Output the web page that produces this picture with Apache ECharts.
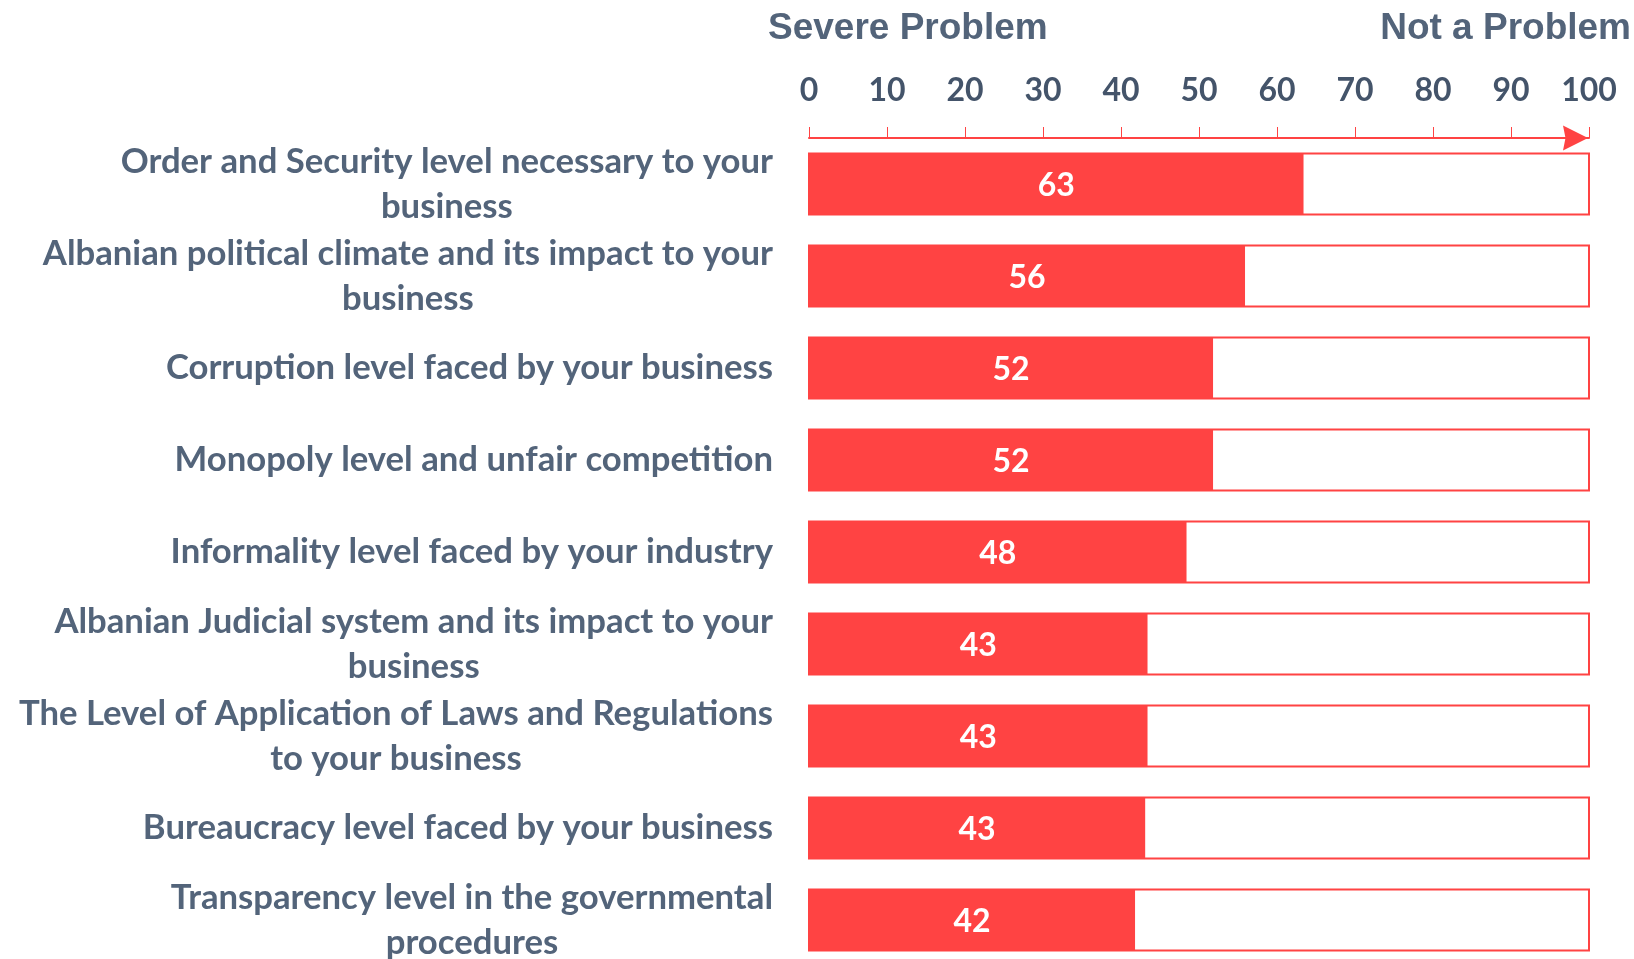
<!DOCTYPE html>
<html>
<head>
<meta charset="utf-8">
<script src="https://cdn.jsdelivr.net/npm/echarts@6/dist/echarts.min.js"></script>
<style>
  html, body { margin: 0; padding: 0; background: #fff; overflow: hidden; }
  #chart { width: 1634px; height: 959px; }
</style>
</head>
<body>
<div id="chart"></div>
<script>
const categories = [
  "Order and Security level necessary to your\nbusiness",
  "Albanian political climate and its impact to your\nbusiness",
  "Corruption level faced by your business",
  "Monopoly level and unfair competition",
  "Informality level faced by your industry",
  "Albanian Judicial system and its impact to your\nbusiness",
  "The Level of Application of Laws and Regulations\nto your business",
  "Bureaucracy level faced by your business",
  "Transparency level in the governmental\nprocedures"
];
const values = [63.4, 55.9, 51.8, 51.8, 48.4, 43.4, 43.4, 43.1, 41.8];
const scaleTitles = ["Severe Problem", "Not a Problem"];
const axisMin = 0, axisMax = 100, axisInterval = 10;

const TEXT = '#53647a';
const TICKTEXT = '#44546a';
const RED = '#ff4343';
const FONT = 'Lato';

const chart = echarts.init(document.getElementById('chart'), null, { renderer: 'canvas' });
chart.setOption({
  backgroundColor: '#ffffff',
  animation: false,
  title: [
    { text: scaleTitles[0], left: 763, top: 5,
      textStyle: { color: TEXT, fontFamily: 'Liberation Sans', fontWeight: 'bold', fontSize: 37 } },
    { text: scaleTitles[1], right: 3, top: 5, padding: [5, 0, 5, 0],
      textStyle: { color: TEXT, fontFamily: 'Liberation Sans', fontWeight: 'bold', fontSize: 37 } }
  ],
  grid: { left: 809, right: 45, top: 138, height: 828, outerBoundsMode: 'none', containLabel: false },
  xAxis: {
    type: 'value', position: 'top', min: axisMin, max: axisMax, interval: axisInterval,
    offset: 0,
    axisLine: { show: true, lineStyle: { color: RED, width: 2 },
      symbol: ['none', 'path://M5,0 L10,10 L5,9 L0,10 Z'], symbolSize: [25, 27], symbolOffset: [0, -13.5] },
    axisTick: { show: true, length: 11, lineStyle: { color: RED, width: 1 } },
    axisLabel: { color: TICKTEXT, fontFamily: FONT, fontWeight: 'bold', fontSize: 32, margin: 31 },
    splitLine: { show: false }
  },
  yAxis: {
    type: 'category', inverse: true, data: categories,
    axisLine: { show: false }, axisTick: { show: false },
    axisLabel: {
      margin: 36, align: 'right',
      formatter: function (v) { return v.split('\n').map(l => '{c|' + l + '}').join('\n'); },
      rich: { c: { align: 'center', color: TEXT, fontFamily: FONT, fontWeight: 'bold', fontSize: 34.7, lineHeight: 45 } }
    }
  },
  series: [{
    type: 'bar', data: values, barWidth: 61,
    itemStyle: { color: RED },
    showBackground: true,
    backgroundStyle: { color: '#ffffff', borderColor: RED, borderWidth: 2 },
    label: { show: true, position: 'inside', offset: [0, 2], color: '#ffffff', fontFamily: FONT, fontWeight: 'bold', fontSize: 32,
      formatter: p => Math.round(p.value) }
  }]
});
</script>
</body>
</html>
